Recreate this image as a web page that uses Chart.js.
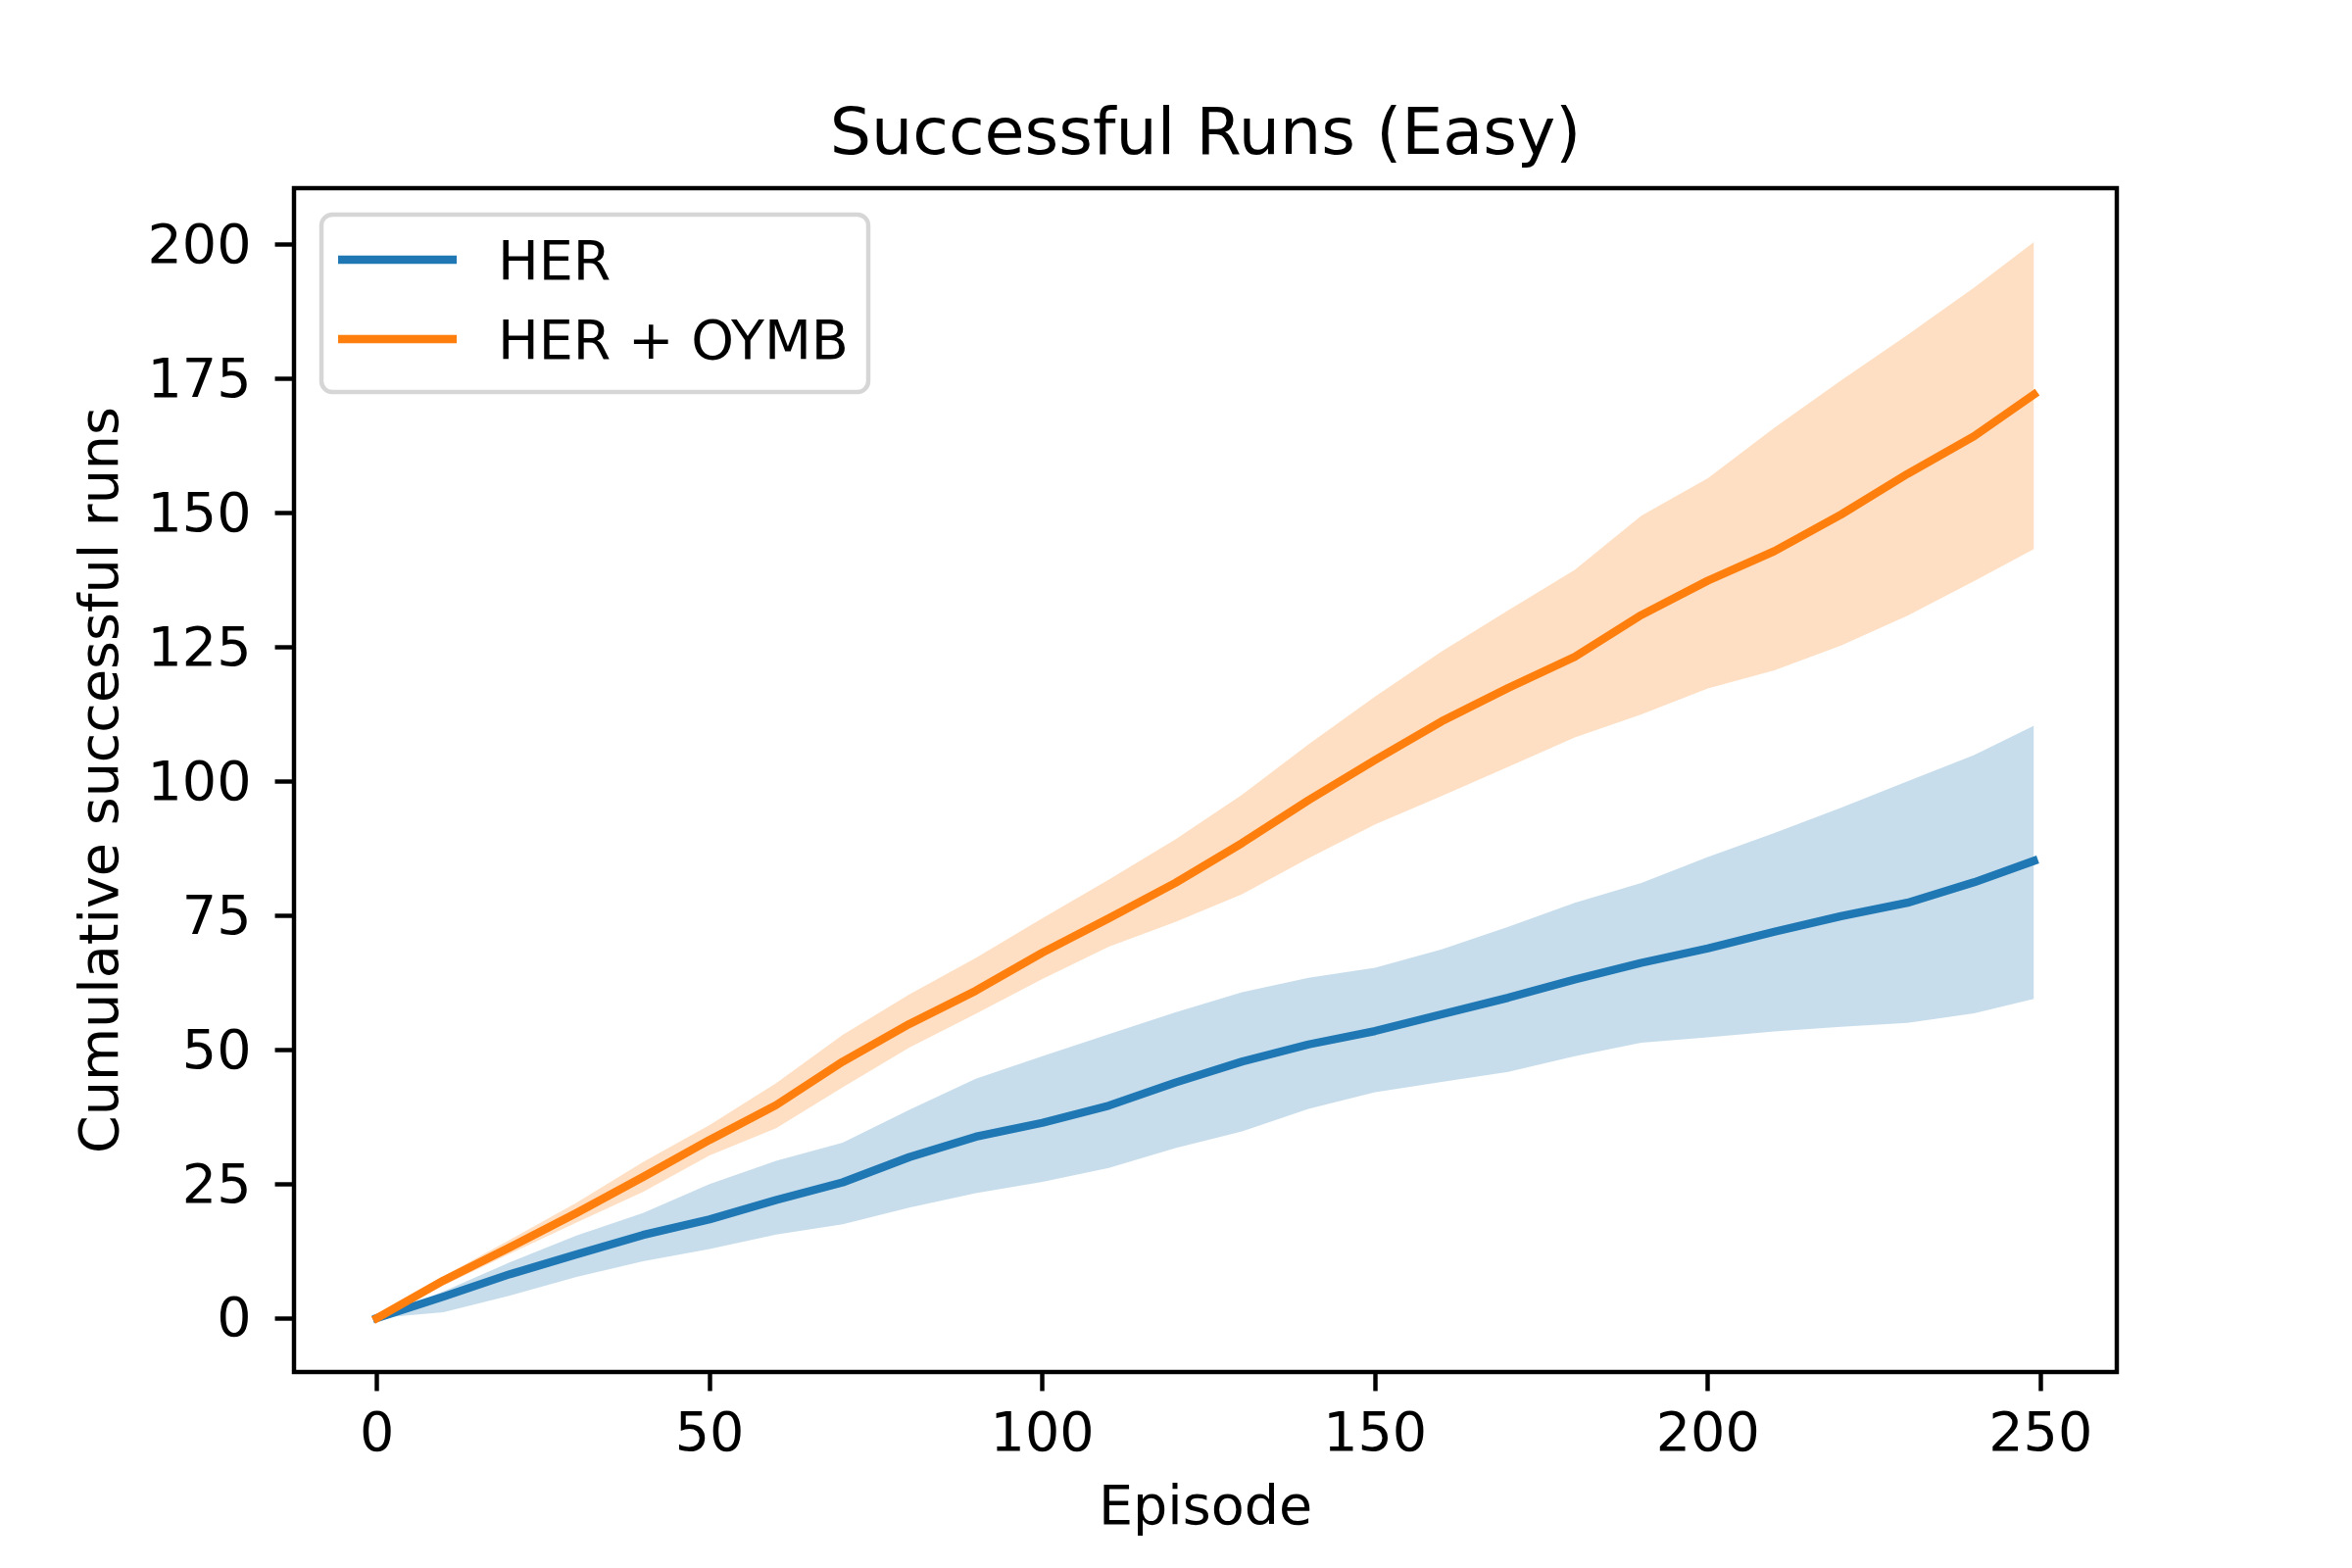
<!DOCTYPE html>
<html>
<head>
<meta charset="utf-8">
<title>Successful Runs (Easy)</title>
<script src="https://cdn.jsdelivr.net/npm/chart.js@4.4.1/dist/chart.umd.min.js"></script>
<style>
  html, body { margin: 0; padding: 0; background: #fff; }
  canvas { display: block; }
</style>
</head>
<body>
<canvas id="grafik" width="2400" height="1600"></canvas>
<script>
// data, every 10 episodes
const episodes = [0, 10, 20, 30, 40, 50, 60, 70, 80, 90, 100, 110, 120, 130, 140, 150, 160, 170, 180, 190, 200, 210, 220, 230, 240, 249];

const herMean  = [0, 4.0, 8.2, 11.9, 15.5, 18.4, 22.0, 25.3, 30.0, 33.8, 36.4, 39.6, 43.9, 47.8, 51.0, 53.5, 56.6, 59.7, 63.1, 66.2, 68.9, 72.0, 74.9, 77.4, 81.2, 85.2];
const herUpper = [0, 5.0, 10.4, 15.4, 19.6, 25.0, 29.3, 32.7, 38.8, 44.6, 48.8, 52.9, 57.0, 60.7, 63.4, 65.3, 68.7, 72.9, 77.4, 81.1, 85.9, 90.4, 95.1, 100.0, 104.9, 110.4];
const herLower = [0, 1.1, 4.2, 7.7, 10.6, 12.9, 15.6, 17.5, 20.6, 23.3, 25.4, 28.0, 31.7, 34.8, 39.0, 42.1, 44.0, 45.9, 48.8, 51.3, 52.3, 53.4, 54.3, 55.0, 56.8, 59.5];

const oymbMean  = [0, 7.0, 13.2, 19.6, 26.3, 33.2, 39.7, 47.8, 54.8, 61.0, 68.1, 74.5, 81.1, 88.5, 96.5, 104.0, 111.2, 117.4, 123.2, 131.0, 137.4, 142.9, 149.7, 157.3, 164.3, 172.1];
const oymbUpper = [0, 7.8, 14.6, 21.5, 29.1, 36.0, 43.8, 52.8, 60.3, 67.1, 74.5, 81.7, 89.2, 97.5, 106.9, 115.8, 124.2, 131.9, 139.4, 149.5, 156.5, 165.9, 174.7, 183.2, 192.0, 200.5];
const oymbLower = [0, 6.1, 12.0, 17.8, 23.5, 30.3, 35.4, 43.0, 50.4, 56.7, 63.2, 69.2, 73.8, 79.0, 85.7, 92.0, 97.3, 102.7, 108.2, 112.5, 117.3, 120.7, 125.3, 130.9, 137.3, 143.3];

const seriesNames = ["HER", "HER + OYMB"];
const xTicks = [0, 50, 100, 150, 200, 250];
const yTicks = [0, 25, 50, 75, 100, 125, 150, 175, 200];

const mavi = "#1f77b4";
const turuncu = "#ff7f0e";
const maviBant = "rgba(31,119,180,0.25)";
const turuncuBant = "rgba(255,127,14,0.25)";

const PT = 400 / 72; // matplotlib points -> px at 400 dpi
const etiketFont = 10 * PT;

const noktalar = arr => episodes.map((e, i) => ({ x: e, y: arr[i] }));

Chart.defaults.font.family = "'DejaVu Sans', sans-serif";
Chart.defaults.color = "#000";

// axes box (all four spines)
const cerceve = {
  id: "cerceve",
  afterDatasetsDraw(chart) {
    const { ctx, chartArea: a } = chart;
    ctx.save();
    ctx.strokeStyle = "#000";
    ctx.lineWidth = 0.8 * PT;
    ctx.strokeRect(a.left, a.top, a.right - a.left, a.bottom - a.top);
    ctx.restore();
  }
};

// matplotlib style legend, upper left
const lejant = {
  id: "lejant",
  afterDraw(chart) {
    const { ctx, chartArea: a } = chart;
    const x = a.left + 28, y = a.top + 27, w = 558, h = 181;
    ctx.save();
    ctx.beginPath();
    ctx.roundRect(x, y, w, h, 11);
    ctx.fillStyle = "rgba(255,255,255,0.8)";
    ctx.fill();
    ctx.strokeStyle = "rgba(204,204,204,0.8)";
    ctx.lineWidth = 0.8 * PT;
    ctx.stroke();

    const renkler = [mavi, turuncu];
    ctx.font = etiketFont + "px 'DejaVu Sans'";
    ctx.textBaseline = "alphabetic";
    ctx.textAlign = "left";
    seriesNames.forEach((ad, i) => {
      const cy = y + 46 + i * 81;
      ctx.beginPath();
      ctx.moveTo(x + 17, cy);
      ctx.lineTo(x + 138, cy);
      ctx.strokeStyle = renkler[i];
      ctx.lineWidth = 1.5 * PT;
      ctx.stroke();
      ctx.fillStyle = "#000";
      ctx.fillText(ad, x + 180, cy + 20);
    });
    ctx.restore();
  }
};

const bantCizgi = { borderWidth: 0, borderColor: "rgba(0,0,0,0)", pointRadius: 0, tension: 0 };
const ortaCizgi = { borderWidth: 1.5 * PT, pointRadius: 0, fill: false, tension: 0, borderJoinStyle: "round", borderCapStyle: "square" };

new Chart(document.getElementById("grafik"), {
  type: "line",
  data: {
    datasets: [
      { ...bantCizgi, label: "HER upper", data: noktalar(herUpper), fill: false, order: 3 },
      { ...bantCizgi, label: "HER lower", data: noktalar(herLower), fill: 0, backgroundColor: maviBant, order: 3 },
      { ...ortaCizgi, label: seriesNames[0], data: noktalar(herMean), borderColor: mavi, order: 4 },
      { ...bantCizgi, label: "OYMB upper", data: noktalar(oymbUpper), fill: false, order: 1 },
      { ...bantCizgi, label: "OYMB lower", data: noktalar(oymbLower), fill: 3, backgroundColor: turuncuBant, order: 1 },
      { ...ortaCizgi, label: seriesNames[1], data: noktalar(oymbMean), borderColor: turuncu, order: 2 }
    ]
  },
  options: {
    responsive: false,
    devicePixelRatio: 1,
    animation: false,
    layout: { padding: { left: 0, top: 0, right: 240, bottom: 0 } },
    plugins: {
      legend: { display: false },
      tooltip: { enabled: false },
      title: {
        display: true,
        text: "Successful Runs (Easy)",
        fullSize: false,
        color: "#000",
        font: { size: 12 * PT, weight: "normal" },
        padding: { top: 100, bottom: 12 }
      }
    },
    scales: {
      x: {
        type: "linear",
        min: -12.45,
        max: 261.45,
        afterBuildTicks: s => { s.ticks = xTicks.map(v => ({ value: v })); },
        afterFit: s => { s.height = 200; },
        border: { display: false },
        grid: { drawOnChartArea: false, drawTicks: true, tickLength: 3.5 * PT, tickWidth: 0.8 * PT, tickColor: "#000" },
        ticks: { font: { size: etiketFont }, padding: 13, maxRotation: 0, color: "#000" },
        title: { display: true, text: "Episode", font: { size: etiketFont }, padding: { top: 0, bottom: 26 }, color: "#000" }
      },
      y: {
        type: "linear",
        min: -10.03,
        max: 210.53,
        afterBuildTicks: s => { s.ticks = yTicks.map(v => ({ value: v })); },
        afterFit: s => { s.width = 300; },
        border: { display: false },
        grid: { drawOnChartArea: false, drawTicks: true, tickLength: 3.5 * PT, tickWidth: 0.8 * PT, tickColor: "#000" },
        ticks: { font: { size: etiketFont }, padding: 24, labelOffset: 4, color: "#000" },
        title: { display: true, text: "Cumulative successful runs", font: { size: etiketFont }, padding: { top: 72, bottom: 0 }, color: "#000" }
      }
    }
  },
  plugins: [cerceve, lejant]
});
</script>
</body>
</html>
